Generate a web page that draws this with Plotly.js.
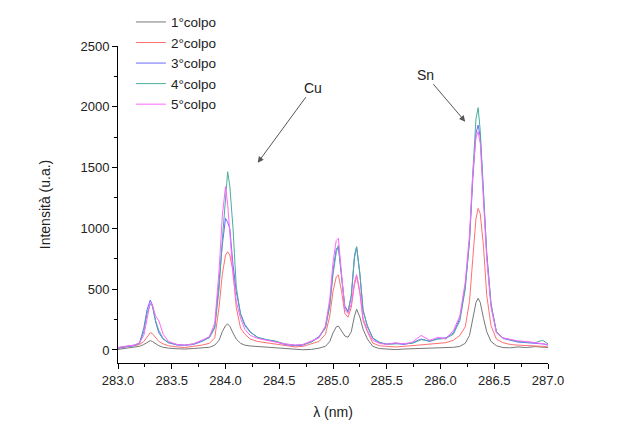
<!DOCTYPE html>
<html>
<head>
<meta charset="utf-8">
<script src="https://cdn.plot.ly/plotly-3.0.1.min.js"></script>
<style>html,body{margin:0;padding:0;background:#fff;}#chart{width:633px;height:429px;}</style>
</head>
<body>
<div id="chart"></div>
<script>
// Wavelength (nm)
var wavelength = [283.00,283.05,283.10,283.15,283.20,283.24,283.27,283.30,283.32,283.35,
  283.38,283.42,283.47,283.55,283.62,283.70,283.78,283.85,283.90,283.94,
  283.97,284.00,284.02,284.04,284.07,284.10,284.14,284.18,284.23,284.30,
  284.38,284.46,284.55,284.65,284.72,284.80,284.87,284.93,284.97,285.00,
  285.03,285.05,285.08,285.11,285.14,285.17,285.20,285.22,285.25,285.28,
  285.32,285.37,285.43,285.50,285.58,285.66,285.74,285.82,285.90,285.98,
  286.05,286.12,286.18,286.23,286.27,286.30,286.33,286.35,286.37,286.40,
  286.43,286.47,286.52,286.58,286.65,286.72,286.80,286.88,286.95,287.00];

var colpo1 = [5,10,15,20,30,45,62,77,70,50,
  35,22,15,10,8,12,15,22,40,80,
  150,200,214,195,140,90,55,40,33,28,
  27,22,15,5,2,5,15,30,70,140,
  190,197,160,115,105,150,280,335,270,170,
  90,30,12,5,3,8,10,12,15,18,
  20,22,30,55,120,250,390,425,390,260,
  150,70,35,20,18,25,20,28,22,20];

var colpo2 = [15,25,30,35,45,70,110,142,135,100,
  70,50,35,25,20,30,40,55,100,350,
  620,780,808,780,650,350,180,130,90,70,
  60,45,35,25,30,50,70,130,280,480,
  600,617,480,300,270,350,540,603,470,240,
  150,57,35,30,25,30,35,40,45,55,
  60,80,120,190,400,750,1080,1165,1120,850,
  450,200,90,60,45,40,38,35,30,25];

var colpo3 = [15,25,30,35,55,180,330,411,370,230,
  140,90,60,40,38,45,70,105,192,560,
  860,1083,1050,1000,700,480,300,210,150,100,
  85,70,45,35,40,70,110,190,380,650,
  830,850,600,360,320,440,760,845,620,320,
  200,96,60,50,55,45,60,90,70,95,
  100,140,260,520,900,1400,1780,1850,1750,1300,
  800,380,150,95,80,65,60,55,50,40];

var colpo4 = [20,25,35,40,55,150,300,380,360,240,
  160,95,60,45,40,50,75,100,180,500,
  900,1250,1466,1350,1000,520,290,200,145,105,
  85,75,50,40,45,65,105,180,360,620,
  800,860,620,350,310,450,780,850,630,330,
  190,100,65,45,50,55,55,85,75,90,
  95,130,240,500,900,1450,1900,1993,1800,1300,
  780,370,150,100,85,70,65,60,80,50];

var colpo5 = [20,30,35,40,60,120,250,390,370,280,
  240,130,70,45,40,50,80,110,220,650,
  1100,1343,1200,950,620,400,260,170,120,95,
  80,65,50,40,45,75,100,200,420,720,
  900,918,640,330,300,380,560,620,480,260,
  160,80,55,45,60,50,65,120,80,105,
  90,160,280,560,950,1450,1750,1795,1700,1250,
  750,350,140,100,85,75,70,60,55,45];

var seriesNames = ['1°colpo','2°colpo','3°colpo','4°colpo','5°colpo'];
var seriesData = [colpo1, colpo2, colpo3, colpo4, colpo5];
var seriesColors = ['#777777','#ff7070','#6a6aff','#4aae9a','#ff66ff'];

var traces = seriesData.map(function(v, i){
  return {x: wavelength, y: v, type: 'scatter', mode: 'lines', name: seriesNames[i],
    line: {color: seriesColors[i], width: 1}};
});

var fam = 'Liberation Sans, Arial, sans-serif';
var axisFont = {family: fam, size: 13, color: '#222'};
var layout = {
  width: 633, height: 429,
  margin: {l: 118, r: 85, t: 46, b: 66, autoexpand: false},
  paper_bgcolor: '#fff', plot_bgcolor: '#fff',
  showlegend: true,
  legend: {x: 0.03, y: 1.124, xanchor: 'left', yanchor: 'top', bgcolor: 'rgba(0,0,0,0)',
    font: {family: fam, size: 13.5, color: '#222'},
    tracegroupgap: 0, itemwidth: 30},
  xaxis: {range: [283, 287], dtick: 0.5, tick0: 283, tickformat: '.1f',
    showline: true, linecolor: '#000', linewidth: 1, ticks: 'outside', ticklen: 5,
    tickcolor: '#000', showgrid: false, zeroline: false, tickfont: axisFont,
    minor: {dtick: 0.25, ticks: 'outside', ticklen: 3, tickcolor: '#000', showgrid: false},
    title: {text: 'λ (nm)', font: {family: fam, size: 14, color: '#222'}, standoff: 20}},
  yaxis: {range: [-107, 2500], dtick: 500, tick0: 0,
    showline: true, linecolor: '#000', linewidth: 1, ticks: 'outside', ticklen: 5,
    tickcolor: '#000', showgrid: false, zeroline: false, tickfont: axisFont,
    minor: {dtick: 250, ticks: 'outside', ticklen: 3, tickcolor: '#000', showgrid: false},
    title: {text: 'Intensità (u.a.)', font: {family: fam, size: 14, color: '#222'}, standoff: 26}},
  annotations: [
    {x: 284.30, y: 1540, xref: 'x', yref: 'y', text: 'Cu', showarrow: true,
     ax: 55, ay: -75, arrowhead: 2, arrowsize: 1.2, arrowwidth: 1, arrowcolor: '#555',
     font: {family: fam, size: 14, color: '#222'}},
    {x: 286.23, y: 1878, xref: 'x', yref: 'y', text: 'Sn', showarrow: true,
     ax: -40, ay: -47, arrowhead: 2, arrowsize: 1.2, arrowwidth: 1, arrowcolor: '#555',
     font: {family: fam, size: 14, color: '#222'}}
  ]
};

Plotly.newPlot('chart', traces, layout, {displayModeBar: false, staticPlot: true});
</script>
</body>
</html>
